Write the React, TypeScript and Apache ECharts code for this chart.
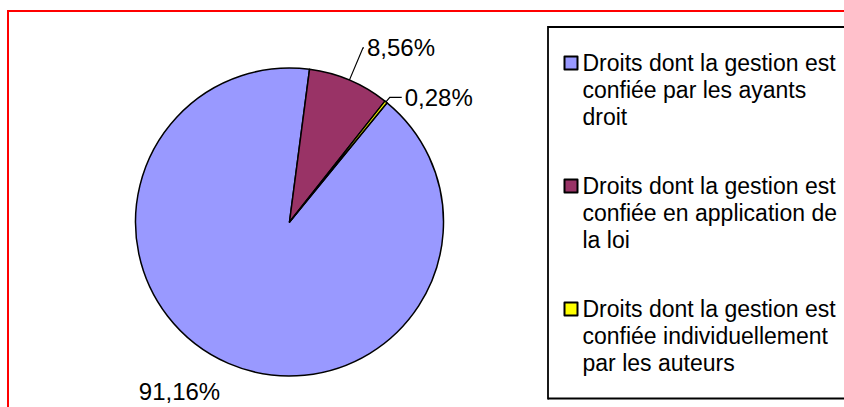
import React, { useEffect, useRef } from "react";
import * as echarts from "echarts";

// Categories (legend order) and their shares, in percent
const categories: string[] = [
  "Droits dont la gestion est confiée par les ayants droit",
  "Droits dont la gestion est confiée en application de la loi",
  "Droits dont la gestion est confiée individuellement par les auteurs",
];
const shares: number[] = [91.16, 8.56, 0.28];
// Legend texts as they are wrapped in the reference
const legendLabels: string[] = [
  "Droits dont la gestion est\nconfiée par les ayants\ndroit",
  "Droits dont la gestion est\nconfiée en application de\nla loi",
  "Droits dont la gestion est\nconfiée individuellement\npar les auteurs",
];

const sliceColors = ["#9999FF", "#993366", "#FFFF00"];
// leader-line settings for each slice label (style only)
const leaderLines = [
  { show: false, length: 30.6, length2: -7 },
  { show: true, length: 35, length2: 1 },
  { show: true, length: 6, length2: 12 },
];

const FONT = "'Liberation Sans', Arial, sans-serif";

const fmtPct = (v: number) => v.toFixed(2).replace(".", ",") + "%";

export default function App() {
  const ref = useRef<HTMLDivElement>(null);
  useEffect(() => {
    const chart = echarts.init(ref.current!, null, { renderer: "svg" });
    chart.setOption({
      animation: false,
      backgroundColor: "#ffffff",
      graphic: [
        {
          type: "rect",
          silent: true,
          shape: { x: 839, y: 29, width: 20, height: 368 },
          style: { fill: "#ffffff" },
          z: 100,
        },
        {
          type: "line",
          silent: true,
          shape: { x1: 8, y1: 11, x2: 844, y2: 11 },
          style: { stroke: "#ff0000", lineWidth: 2 },
          z: 10,
        },
        {
          type: "line",
          silent: true,
          shape: { x1: 8, y1: 10, x2: 8, y2: 407 },
          style: { stroke: "#ff0000", lineWidth: 2 },
          z: 10,
        },
        {
          type: "line",
          silent: true,
          shape: { x1: 548, y1: 27, x2: 844, y2: 27 },
          style: { stroke: "#000000", lineWidth: 1.8 },
          z: 10,
        },
        {
          type: "line",
          silent: true,
          shape: { x1: 548, y1: 26.1, x2: 548, y2: 399.4 },
          style: { stroke: "#000000", lineWidth: 1.8 },
          z: 10,
        },
        {
          type: "line",
          silent: true,
          shape: { x1: 548, y1: 398.5, x2: 844, y2: 398.5 },
          style: { stroke: "#000000", lineWidth: 1.8 },
          z: 10,
        },
      ],
      legend: {
        orient: "vertical",
        left: 563.5,
        top: -4.5,
        padding: 0,
        itemGap: -12,
        itemWidth: 13,
        itemHeight: 13,
        icon: "rect",
        selectedMode: false,
        formatter: (name: string) => "\n\n" + legendLabels[categories.indexOf(name)],
        textStyle: {
          fontFamily: FONT,
          fontSize: 23,
          color: "#000",
          lineHeight: 27,
        },
        data: categories,
      },
      series: [
        {
          type: "pie",
          center: [289.5, 222],
          radius: 154,
          startAngle: 50.7,
          clockwise: true,
          avoidLabelOverlap: false,
          itemStyle: { borderColor: "#000", borderWidth: 1.5 },
          label: {
            show: true,
            position: "outside",
            formatter: (p: any) => fmtPct(p.value),
            fontFamily: FONT,
            fontSize: 24,
            color: "#000",
            distanceToLabelLine: 3,
          },
          labelLine: { lineStyle: { color: "#000", width: 1.2 } },
          emphasis: { disabled: true },
          data: categories.map((name, i) => ({
            name,
            value: shares[i],
            itemStyle: { color: sliceColors[i] },
            labelLine: leaderLines[i],
          })),
        },
      ],
    });
    return () => chart.dispose();
  }, []);
  return (
    <div
      ref={ref}
      style={{ position: "fixed", left: 0, top: 0, width: 844, height: 407 }}
    />
  );
}
